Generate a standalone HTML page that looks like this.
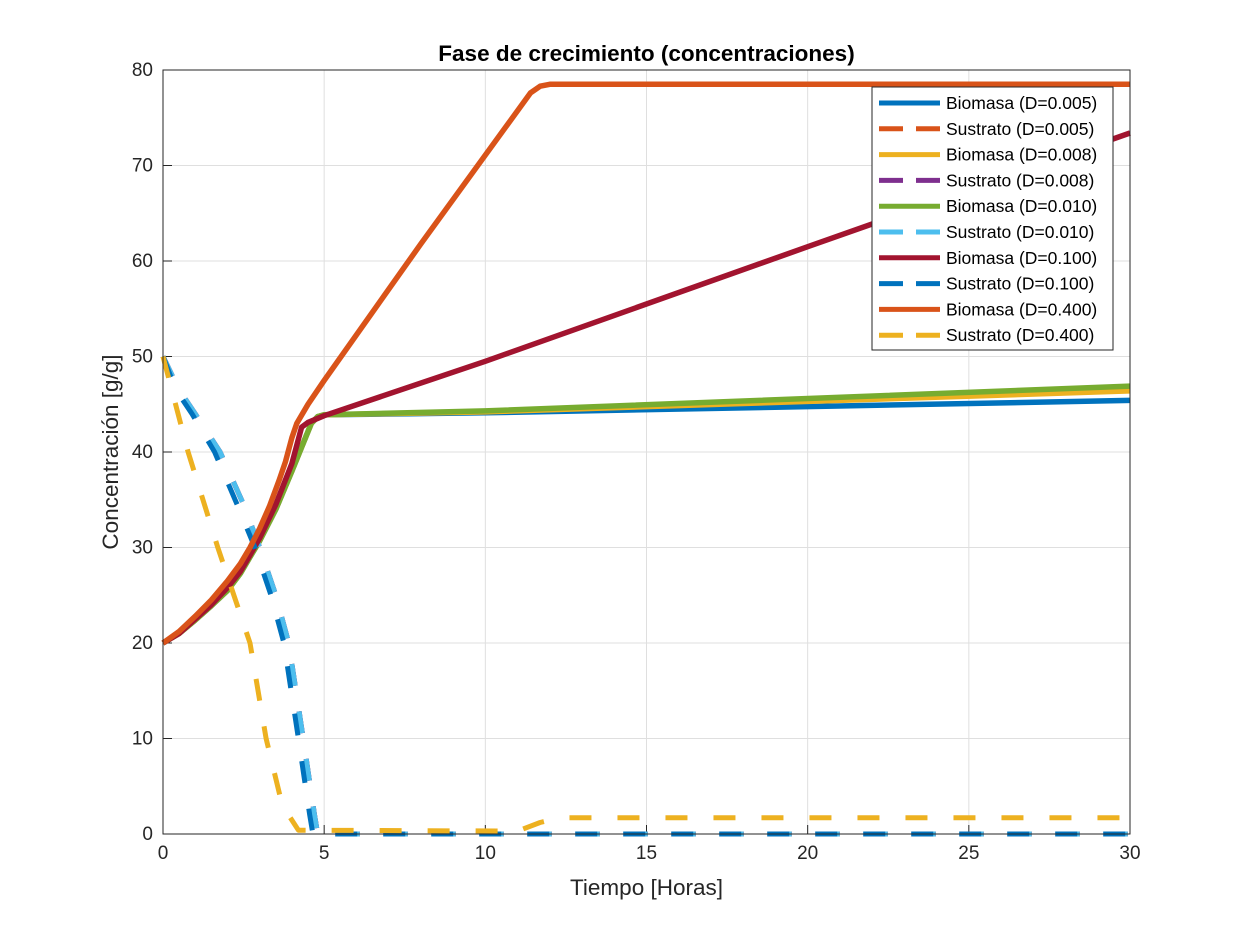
<!DOCTYPE html>
<html><head><meta charset="utf-8"><style>
body{margin:0;background:#fff;}
svg text{font-family:"Liberation Sans",sans-serif;}
</style></head><body>
<svg id="c" width="1250" height="938" xmlns="http://www.w3.org/2000/svg"></svg>
<script>
const xTicks=[0,5,10,15,20,25,30];
const yTicks=[0,10,20,30,40,50,60,70,80];
const tBio04=[0,0.5,1,1.5,2,2.4,2.7,3.0,3.3,3.6,3.8,4.0,4.15,4.5,5,8,11.4,11.7,12,30];
const vBio04=[20,21.2,22.8,24.5,26.5,28.3,30,32,34.3,37,39,41.5,43,45,47.5,61.8,77.6,78.3,78.5,78.5];
const tBio01=[0,0.5,1,1.5,2,2.4,2.7,3.0,3.5,4.0,4.3,4.5,5,10,20,30];
const vBio01=[20,21,22.5,24,25.8,27.5,29.2,31,34.5,38.8,42.6,43.1,43.8,49.5,61.5,73.4];
const tBio010=[0,0.5,1,1.5,2,2.4,2.7,3.0,3.5,4,4.3,4.6,4.8,5,10,30];
const vBio010=[20,21,22.4,23.9,25.5,27.3,29,30.7,34,38,40.5,43,43.7,43.9,44.3,46.9];
const vBio008=[20,21,22.4,23.9,25.5,27.3,29,30.7,34,38,40.5,43,43.7,43.9,44.2,46.4];
const vBio005=[20,21,22.4,23.9,25.5,27.3,29,30.7,34,38,40.5,43,43.7,43.9,44.1,45.4];
const tSub=[0,0.5,1,1.77,2.5,3,3.5,3.9,4.35,4.7,4.8,30];
const vSub=[50,46.5,44,40,34.5,30,25,20,10,2,0,0];
const tSubB=[0,0.4,0.9,1.6,2.3,2.85,3.35,3.75,4.2,4.55,4.65,30];
const tSub04=[0,0.78,1.7,2.2,2.7,3.2,3.7,4.2,11,11.7,12.3,30];
const vSub04=[50,40,30,25,20,10,3,0.4,0.3,1.2,1.7,1.7];
const legendLabels=["Biomasa (D=0.005)","Sustrato (D=0.005)","Biomasa (D=0.008)","Sustrato (D=0.008)","Biomasa (D=0.010)","Sustrato (D=0.010)","Biomasa (D=0.100)","Sustrato (D=0.100)","Biomasa (D=0.400)","Sustrato (D=0.400)"];
const colors=["#0072BD","#D95319","#EDB120","#7E2F8E","#77AC30","#4DBEEE","#A2142F","#0072BD","#D95319","#EDB120"];

const X0=163,X1=1130,Y0=834,Y1=70;
const sx=t=>X0+(t-0)/(30-0)*(X1-X0);
const sy=v=>Y0-(v-0)/(80-0)*(Y0-Y1);
const svg=document.getElementById('c');
const NS='http://www.w3.org/2000/svg';
function mk(tag,attrs,parent){const e=document.createElementNS(NS,tag);for(const k in attrs)e.setAttribute(k,attrs[k]);(parent||svg).appendChild(e);return e;}

mk('rect',{x:X0,y:Y1,width:X1-X0,height:Y0-Y1,fill:'#fff'});
xTicks.forEach(t=>{
  const l=mk('line',{x1:sx(t),x2:sx(t),y1:Y1,y2:Y0,stroke:'#dfdfdf','stroke-width':1});
  
  
  mk('line',{x1:sx(t),x2:sx(t),y1:Y0,y2:Y0-9,stroke:'#262626'});
  const tx=mk('text',{x:sx(t),y:Y0+25,'text-anchor':'middle','font-size':19,fill:'#262626'});
  tx.textContent=t;
  
  
});
yTicks.forEach(v=>{
  const l=mk('line',{x1:X0,x2:X1,y1:sy(v),y2:sy(v),stroke:'#dfdfdf','stroke-width':1});
  
  
  mk('line',{x1:X0,x2:X0+9,y1:sy(v),y2:sy(v),stroke:'#262626'});
  const tx=mk('text',{x:X0-10,y:sy(v)+6,'text-anchor':'end','font-size':19,fill:'#262626'});
  tx.textContent=v;
  
  
});

function series(ts,vs,col,dashed,name){
  const d=ts.map((t,i)=>(i?'L':'M')+sx(t).toFixed(1)+','+sy(vs[i]).toFixed(1)).join(' ');
  const p=mk('path',{d:d,fill:'none',stroke:col,'stroke-width':dashed?5:5.5,'stroke-linejoin':'round'});
  if(dashed)p.setAttribute('stroke-dasharray','22 26');
  
  
}
series(tBio010,vBio005,colors[0],false,'biomasa-d0005-line');
series(tSub,vSub,colors[1],true,'sustrato-d0005-line');
series(tBio010,vBio008,colors[2],false,'biomasa-d0008-line');
series(tSub,vSub,colors[3],true,'sustrato-d0008-line');
series(tBio010,vBio010,colors[4],false,'biomasa-d0010-line');
series(tSub,vSub,colors[5],true,'sustrato-d0010-line');
series(tBio01,vBio01,colors[6],false,'biomasa-d0100-line');
series(tSubB,vSub,colors[7],true,'sustrato-d0100-line');
series(tBio04,vBio04,colors[8],false,'biomasa-d0400-line');
series(tSub04,vSub04,colors[9],true,'sustrato-d0400-line');

mk('rect',{x:X0,y:Y1,width:X1-X0,height:Y0-Y1,fill:'none',stroke:'#262626','stroke-width':1});

const title=mk('text',{x:(X0+X1)/2,y:61,'text-anchor':'middle','font-size':22.5,'font-weight':'bold',fill:'#000'});
title.textContent='Fase de crecimiento (concentraciones)';


const xl=mk('text',{x:(X0+X1)/2,y:895,'text-anchor':'middle','font-size':22.5,fill:'#262626'});
xl.textContent='Tiempo [Horas]';


const yl=mk('text',{x:0,y:0,'text-anchor':'middle','font-size':22.5,fill:'#262626',transform:'translate(118,452) rotate(-90)'});
yl.textContent='Concentración [g/g]';



const lg=mk('g',{});


mk('rect',{x:872,y:87,width:241,height:263,fill:'#fff',stroke:'#262626','stroke-width':1},lg);
legendLabels.forEach((lab,i)=>{
  const y=103+i*25.8;
  const ln=mk('line',{x1:879,x2:940,y1:y,y2:y,stroke:colors[i],'stroke-width':5},lg);
  if(i%2===1)ln.setAttribute('stroke-dasharray','24 13');
  
  
  const tx=mk('text',{x:946,y:y+6,'font-size':17.5,fill:'#000'},lg);
  tx.textContent=lab;
  
  
});
</script>
</body></html>
